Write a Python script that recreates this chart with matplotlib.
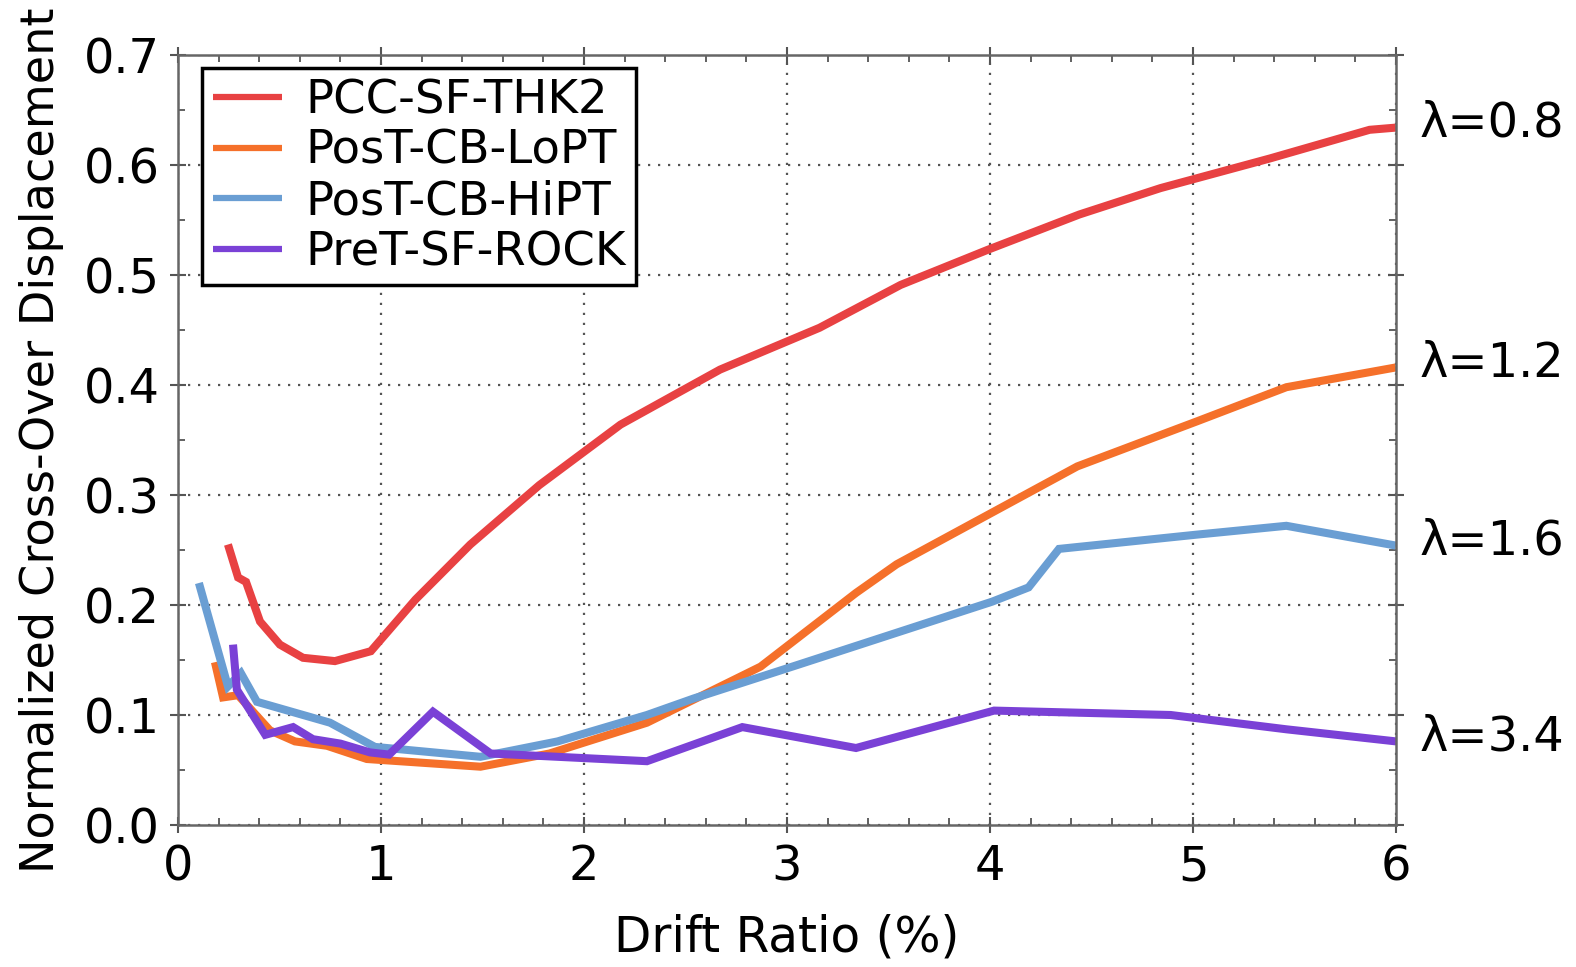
import matplotlib
matplotlib.use("Agg")
import matplotlib.pyplot as plt
from matplotlib.ticker import MultipleLocator

# ---- data ----
thk2_x = [0.246, 0.296, 0.335, 0.404, 0.502, 0.616, 0.773, 0.95, 1.17, 1.44, 1.78, 2.18, 2.67, 3.16, 3.56, 3.99, 4.44, 4.84, 5.38, 5.87, 6.0]
thk2_y = [0.255, 0.225, 0.221, 0.185, 0.164, 0.152, 0.149, 0.158, 0.205, 0.255, 0.309, 0.364, 0.414, 0.452, 0.491, 0.523, 0.555, 0.579, 0.606, 0.632, 0.634]

lopt_x = [0.182, 0.222, 0.296, 0.453, 0.576, 0.734, 0.93, 1.49, 1.83, 2.31, 2.87, 3.34, 3.54, 4.43, 5.02, 5.46, 6.0]
lopt_y = [0.148, 0.116, 0.118, 0.086, 0.076, 0.072, 0.060, 0.053, 0.065, 0.093, 0.144, 0.211, 0.237, 0.326, 0.367, 0.398, 0.416]

hipt_x = [0.103, 0.246, 0.31, 0.389, 0.749, 0.97, 1.49, 1.87, 2.31, 2.54, 3.06, 4.01, 4.19, 4.34, 5.02, 5.46, 6.0]
hipt_y = [0.220, 0.126, 0.138, 0.112, 0.093, 0.071, 0.062, 0.076, 0.100, 0.115, 0.146, 0.203, 0.216, 0.251, 0.264, 0.272, 0.254]

rock_x = [0.271, 0.29, 0.43, 0.567, 0.665, 0.80, 0.946, 1.04, 1.256, 1.54, 2.31, 2.78, 3.34, 4.02, 4.89, 5.46, 6.0]
rock_y = [0.164, 0.123, 0.082, 0.089, 0.078, 0.074, 0.066, 0.064, 0.103, 0.065, 0.058, 0.089, 0.070, 0.104, 0.100, 0.087, 0.076]

series_names = ["PCC-SF-THK2", "PosT-CB-LoPT", "PosT-CB-HiPT", "PreT-SF-ROCK"]
lambda_labels = ["λ=0.8", "λ=1.2", "λ=1.6", "λ=3.4"]
colors = ["#E84142", "#F5702A", "#6A9ED3", "#7A41D6"]

xs = [thk2_x, lopt_x, hipt_x, rock_x]
ys = [thk2_y, lopt_y, hipt_y, rock_y]

plt.rcParams['font.family'] = ['DejaVu Sans']

fig = plt.figure(figsize=(15.76, 9.67), dpi=100)
ax = fig.add_axes([178/1576, 1-825/967, (1396-178)/1576, (825-55)/967])

for x, y, c, n in zip(xs, ys, colors, series_names):
    ax.plot(x, y, color=c, lw=5.8, label=n, solid_joinstyle='miter', solid_capstyle='butt')

for y, c, lab in zip(ys, colors, lambda_labels):
    ax.annotate(lab, xy=(6.0, y[-1]), xytext=(17, 3), textcoords='offset points',
                fontsize=34.5, va='center', ha='left', annotation_clip=False)

ax.set_xlim(0, 6)
ax.set_ylim(0, 0.7)
ax.xaxis.set_major_locator(MultipleLocator(1))
ax.xaxis.set_minor_locator(MultipleLocator(0.2))
ax.yaxis.set_major_locator(MultipleLocator(0.1))
ax.yaxis.set_minor_locator(MultipleLocator(0.05))
ax.xaxis.set_major_formatter(matplotlib.ticker.FormatStrFormatter('%d'))
ax.yaxis.set_major_formatter(matplotlib.ticker.FormatStrFormatter('%.1f'))

ax.grid(True, which='major', linestyle=(0, (1, 3.5)), color='#555555', lw=1.6)
ax.tick_params(which='major', direction='inout', length=12, width=1.5, colors='#555555',
               labelsize=34.5, labelcolor='black', top=True, right=True, pad=7)
ax.tick_params(which='minor', direction='in', length=5, width=1.3, colors='#555555',
               top=True, right=True)
for s in ax.spines.values():
    s.set_color('#666666')
    s.set_linewidth(1.8)

ax.set_xlabel("Drift Ratio (%)", fontsize=35, labelpad=17)
ax.set_ylabel("Normalized Cross-Over Displacement", fontsize=33.3, labelpad=14)

leg = ax.legend(loc='upper left', fontsize=33.5, frameon=True, fancybox=False,
                handlelength=1.5, handletextpad=0.5, borderpad=0.22, labelspacing=0.12,
                borderaxespad=0.0, bbox_to_anchor=(0.02, 0.983))
leg.get_frame().set_edgecolor('black')
leg.get_frame().set_linewidth(2.5)
leg.get_frame().set_alpha(1)
for h in leg.get_lines():
    h.set_linewidth(4.5)

fig.savefig("out.png", dpi=100)
